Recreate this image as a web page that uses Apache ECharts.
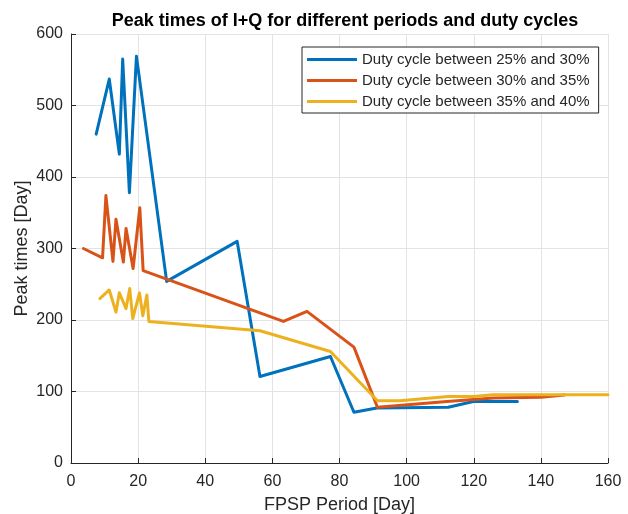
<!DOCTYPE html>
<html>
<head>
<meta charset="utf-8">
<script src="https://cdn.jsdelivr.net/npm/echarts@6/dist/echarts.min.js"></script>
<style>
  html, body { margin: 0; padding: 0; background: #fff; }
  #chart { width: 628px; height: 514px; }
</style>
</head>
<body>
<div id="chart"></div>
<script>
// FPSP period [day] and peak time [day] for each duty-cycle band
const periods25to30 = [7.5, 11.4, 14.4, 15.4, 17.4, 19.5, 28.5, 49.5, 56.3, 77.3, 84.3, 91.1, 112.4, 119.9, 133];
const peaks25to30   = [460, 537, 432, 565, 378, 569, 254, 310, 121, 149, 71, 77, 78, 86, 86];

const periods30to35 = [3.7, 9.4, 10.4, 12.5, 13.4, 15.6, 16.4, 18.5, 20.5, 21.5, 63.3, 70.3, 84.3, 91.3, 112, 126, 140, 147];
const peaks30to35   = [300, 287, 374, 282, 341, 281, 328, 272, 357, 269, 198, 212, 162, 78, 86, 91, 92, 95];

const periods35to40 = [8.6, 11.4, 13.4, 14.4, 16.4, 17.5, 18.4, 20.4, 21.4, 22.6, 23.2, 56.3, 77.3, 91.3, 98, 112.4, 120, 125.8, 160];
const peaks35to40   = [230, 242, 211, 238, 216, 244, 202, 238, 206, 235, 198, 185, 156, 87, 87, 93, 93, 95.5, 95.5];

const seriesNames = [
  'Duty cycle between 25% and 30%',
  'Duty cycle between 30% and 35%',
  'Duty cycle between 35% and 40%'
];
const seriesColors = ['#0072BD', '#D95319', '#EDB120'];

function pairs(xs, ys) {
  return xs.map((x, i) => [x, ys[i]]);
}

const font = 'Liberation Sans, Arial, Helvetica, sans-serif';
const ink = '#262626';

const chart = echarts.init(document.getElementById('chart'), null, { renderer: 'canvas' });

const allData = [
  pairs(periods25to30, peaks25to30),
  pairs(periods30to35, peaks30to35),
  pairs(periods35to40, peaks35to40)
];

chart.setOption({
  animation: false,
  backgroundColor: '#ffffff',
  title: {
    text: 'Peak times of I+Q for different periods and duty cycles',
    left: 340,
    textAlign: 'center',
    top: 7,
    textStyle: { fontFamily: font, fontSize: 18, fontWeight: 'bold', color: '#000' }
  },
  legend: {
    orient: 'vertical',
    left: 302,
    top: 47,
    padding: [5, 9, 4, 5],
    itemGap: 6,
    itemWidth: 50,
    itemHeight: 3,
    icon: 'rect',
    backgroundColor: '#ffffff',
    borderColor: ink,
    borderWidth: 1,
    borderRadius: 0,
    textStyle: { fontFamily: font, fontSize: 15, color: ink },
    data: seriesNames
  },
  grid: {
    left: 71, right: 20, top: 34, bottom: 51,
    containLabel: false,
    outerBoundsMode: 'none'
  },
  xAxis: {
    type: 'value',
    min: 0, max: 160, interval: 20,
    name: 'FPSP Period [Day]',
    nameLocation: 'middle',
    nameGap: 33,
    nameMoveOverlap: false,
    nameTextStyle: { fontFamily: font, fontSize: 18, color: ink },
    axisLine: { show: true, lineStyle: { color: ink, width: 1 } },
    axisTick: { show: true, inside: true, length: 5, lineStyle: { color: ink } },
    axisLabel: { fontFamily: font, fontSize: 16, color: ink, margin: 11 },
    splitLine: { show: true, lineStyle: { color: '#e3e3e3', width: 1 } }
  },
  yAxis: {
    type: 'value',
    min: 0, max: 600, interval: 100,
    name: 'Peak times [Day]',
    nameLocation: 'middle',
    nameGap: 40,
    nameMoveOverlap: false,
    nameTextStyle: { fontFamily: font, fontSize: 18, color: ink },
    axisLine: { show: true, lineStyle: { color: ink, width: 1 } },
    axisTick: { show: true, inside: true, length: 5, lineStyle: { color: ink } },
    axisLabel: { fontFamily: font, fontSize: 16, color: ink, margin: 8 },
    splitLine: { show: true, lineStyle: { color: '#e3e3e3', width: 1 } }
  },
  series: allData.map((d, i) => ({
    name: seriesNames[i],
    type: 'line',
    data: d,
    showSymbol: false,
    symbol: 'none',
    color: seriesColors[i],
    lineStyle: { color: seriesColors[i], width: 3, join: 'round', cap: 'round' },
    z: 2 + i
  }))
});
</script>
</body>
</html>
